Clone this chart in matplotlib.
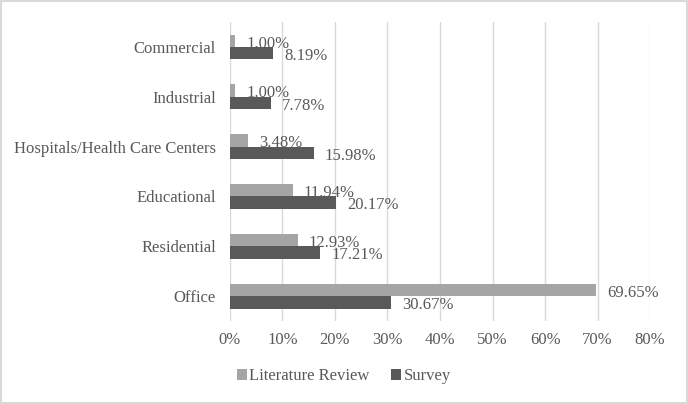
import matplotlib
matplotlib.use("Agg")
import matplotlib.pyplot as plt
import numpy as np

categories = ["Office", "Residential", "Educational", "Hospitals/Health Care Centers", "Industrial", "Commercial"]
literature = [69.65, 12.93, 11.94, 3.48, 1.00, 1.00]
survey = [30.67, 17.21, 20.17, 15.98, 7.78, 8.19]
xticks = [0, 10, 20, 30, 40, 50, 60, 70, 80]

plt.rcParams['font.family'] = ['Liberation Serif', 'DejaVu Serif']
text_color = '#595959'
light = '#A5A5A5'
dark = '#595959'

fig = plt.figure(figsize=(6.88, 4.04), dpi=100)
ax = fig.add_axes([0.334, 0.2054, 0.611, 0.740])

y = np.arange(len(categories))
h = 0.25
b1 = ax.barh(y + h / 2, literature, height=h, color=light, label='Literature Review', zorder=3)
b2 = ax.barh(y - h / 2, survey, height=h, color=dark, label='Survey', zorder=3)

for bars, vals in ((b1, literature), (b2, survey)):
    for bar, v in zip(bars, vals):
        ax.annotate(f"{v:.2f}%", (bar.get_width(), bar.get_y() + bar.get_height() / 2),
                    xytext=(8, -2), textcoords='offset points', va='center', ha='left',
                    fontsize=12, color=text_color)

ax.set_xlim(0, 80)
ax.set_ylim(-0.5, len(categories) - 0.5)
ax.set_xticks(xticks)
ax.set_xticklabels([f"{t}%" for t in xticks])
ax.set_yticks(y)
ax.set_yticklabels(categories)
ax.tick_params(axis='both', length=0, labelsize=12, labelcolor=text_color)
ax.tick_params(axis='x', pad=8)
ax.tick_params(axis='y', pad=10)
ax.grid(axis='x', color='#D9D9D9', linewidth=1, zorder=0)
for s in ax.spines.values():
    s.set_visible(False)

leg = fig.legend(handles=[b1, b2], loc='center', bbox_to_anchor=(0.5, 0.069), ncol=2,
                 frameon=False, fontsize=12, handlelength=0.6, handleheight=0.6,
                 handletextpad=0.15, columnspacing=1.3)
for t in leg.get_texts():
    t.set_color(text_color)

fig.patches.append(plt.Rectangle((0.002, 0.003), 0.996, 0.994, transform=fig.transFigure,
                                 fill=False, edgecolor='#D9D9D9', linewidth=1.5))

fig.savefig("out.png", dpi=100)
